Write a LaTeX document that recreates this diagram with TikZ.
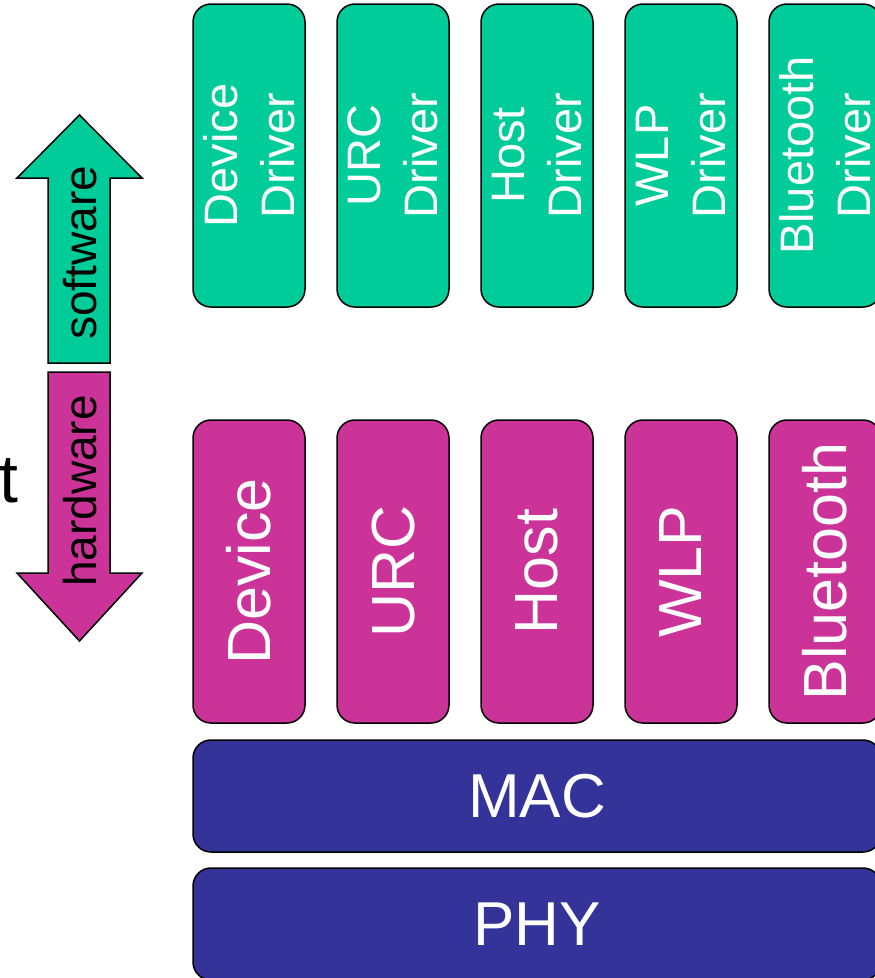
\documentclass[tikz,border=0pt]{standalone}
\usepackage{fontspec}
\setmainfont{Liberation Sans}
\definecolor{swgreen}{RGB}{0,204,153}
\definecolor{hwpink}{RGB}{204,51,153}
\definecolor{macblue}{RGB}{51,51,153}
\tikzset{
  blockbox/.style={draw=black,line width=1.5pt,rounded corners=18pt,text=white,inner sep=0pt,align=center},
  drvbox/.style={blockbox,fill=swgreen,rotate=90,minimum width=303pt,minimum height=112pt,font=\fontsize{47}{57}\selectfont},
  hwbox/.style={blockbox,fill=hwpink,rotate=90,minimum width=303pt,minimum height=112pt,font=\fontsize{61}{70}\selectfont},
  busbox/.style={blockbox,fill=macblue,minimum width=688pt,minimum height=112pt,font=\fontsize{62}{70}\selectfont},
  arrowlabel/.style={rotate=90,inner sep=0pt,font=\fontsize{46}{50}\selectfont}
}
\begin{document}
\begin{tikzpicture}[x=1pt,y=-1pt]
\useasboundingbox (0,0) rectangle (875,978);
\clip (0,0) rectangle (875,978);

\node[drvbox] (devdrv) at (249,155.5) {Device\\Driver};
\node[drvbox] (urcdrv) at (393,155.5) {URC\\Driver};
\node[drvbox] (hostdrv) at (537,155.5) {Host\\Driver};
\node[drvbox] (wlpdrv) at (681,155.5) {WLP\\Driver};
\node[drvbox] (btdrv) at (825,155.5) {Bluetooth\\Driver};

\node[hwbox] (dev) at (249,571.5) {Device};
\node[hwbox] (urc) at (393,571.5) {URC};
\node[hwbox] (host) at (537,571.5) {Host};
\node[hwbox] (wlp) at (681,571.5) {WLP};
\node[hwbox] (bt) at (825,571.5) {Bluetooth};

\node[busbox] (mac) at (537,796) {MAC};
\node[busbox] (phy) at (537,924) {PHY};

\draw[fill=swgreen,line width=1.5pt] (48,363) -- (48,178) -- (17,178) -- (79.5,115) -- (142,178) -- (110,178) -- (110,363) -- cycle;
\draw[fill=hwpink,line width=1.5pt] (48,372) -- (48,573) -- (17,573) -- (79.5,641) -- (142,573) -- (110,573) -- (110,372) -- cycle;
\node[arrowlabel] (swlabel) at (80,253) {software};
\node[arrowlabel] (hwlabel) at (80,491) {hardware};

\node[anchor=base east,inner sep=0pt,font=\fontsize{68}{70}\selectfont] (cut) at (19,502) {t};
\end{tikzpicture}
\end{document}
